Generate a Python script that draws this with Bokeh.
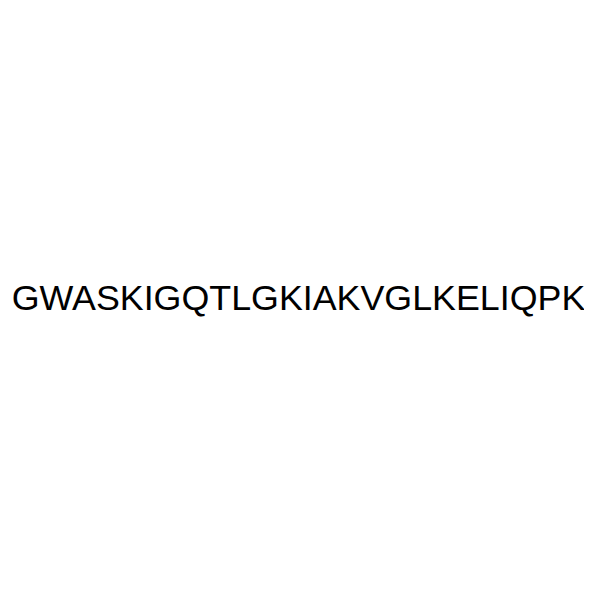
from bokeh.plotting import figure
from bokeh.models import ColumnDataSource, Range1d
from bokeh.core.properties import value
from bokeh.embed import file_html
from bokeh.resources import INLINE

labels = ["GWASKIGQTLGKIAKVGLKELIQPK"]
xs = [298.0]
ys = [287.0]

src = ColumnDataSource(dict(x=xs, y=ys, t=labels))
p = figure(width=584, height=584, output_backend="svg", toolbar_location=None,
           x_range=Range1d(0, 584), y_range=Range1d(0, 584), min_border=0)
p.axis.visible = False
p.grid.visible = False
p.outline_line_color = None
p.text(x="x", y="y", text="t", source=src, text_font=value("Liberation Sans"),
       text_font_size="35.8px", text_align="center", text_baseline="alphabetic", text_color="black")

open("out.html", "w").write(file_html(p, INLINE))
